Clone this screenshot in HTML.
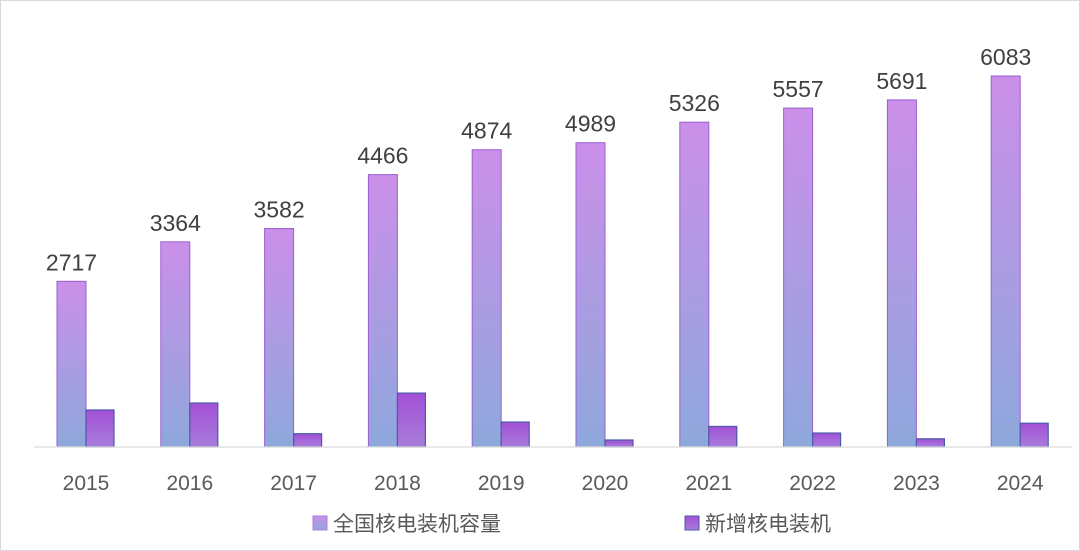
<!DOCTYPE html>
<html><head><meta charset="utf-8"><style>
html,body{margin:0;padding:0;background:#fff}
svg{display:block;font-family:"Liberation Sans","Noto Sans CJK SC",sans-serif}
</style></head><body>
<svg id="c" width="1080" height="551" viewBox="0 0 1080 551">
<defs>
<linearGradient id="gBig" x1="0" y1="0" x2="0" y2="1"><stop offset="0" stop-color="#cb8fe9"/><stop offset="1" stop-color="#8ea8dc"/></linearGradient>
<linearGradient id="gSmall" x1="0" y1="0" x2="0" y2="1"><stop offset="0" stop-color="#a350d6"/><stop offset="1" stop-color="#a87ddb"/></linearGradient>
</defs>
<rect x="0.5" y="0.5" width="1079" height="550" fill="#fff" stroke="#d9d9d9"/>
<g id="bars"></g>
<line x1="34" y1="447" x2="1072" y2="447" stroke="#d9d9d9" stroke-width="1.3"/>
<g>
<rect x="313" y="516" width="14" height="14" fill="url(#gBig)" stroke="#b07ce0"/>
<text x="333" y="531" font-size="21" fill="#595959">全国核电装机容量</text>
<rect x="685" y="516" width="14" height="14" fill="url(#gSmall)" stroke="#4a5aa8"/>
<text x="705" y="531" font-size="21" fill="#595959">新增核电装机</text>
</g>
</svg>
<script>
const categories=["2015","2016","2017","2018","2019","2020","2021","2022","2023","2024"];
const capacity=[2717,3364,3582,4466,4874,4989,5326,5557,5691,6083];
const added=[607,721,218,884,409,115,337,229,134,390];
const baseY=447, pxPerUnit=371/6083, firstX=86, step=103.8, bw=29;
const x=i=>firstX+i*step;
const y=v=>baseY-v*pxPerUnit;
const g=document.getElementById('bars');
const NS="http://www.w3.org/2000/svg";
categories.forEach((c,i)=>{
  const cx=x(i);
  let r=document.createElementNS(NS,'rect');
  r.setAttribute('x',cx-bw);r.setAttribute('y',y(capacity[i]));r.setAttribute('width',bw);r.setAttribute('height',baseY-y(capacity[i]));
  r.setAttribute('fill','url(#gBig)');r.setAttribute('stroke','#9b5fd0');r.setAttribute('stroke-width','1');
  
  
  g.appendChild(r);
  let s=document.createElementNS(NS,'rect');
  s.setAttribute('x',cx);s.setAttribute('y',y(added[i]));s.setAttribute('width',bw-1);s.setAttribute('height',baseY-y(added[i]));
  s.setAttribute('fill','url(#gSmall)');s.setAttribute('stroke','#4a5aa8');s.setAttribute('stroke-width','1.2');
  
  
  g.appendChild(s);
  let t=document.createElementNS(NS,'text');
  t.setAttribute('x',cx-bw/2);t.setAttribute('y',y(capacity[i])-11);t.setAttribute('text-anchor','middle');
  t.setAttribute('font-size','23');t.setAttribute('fill','#404040');t.textContent=capacity[i];
  
  
  g.appendChild(t);
  let l=document.createElementNS(NS,'text');
  l.setAttribute('x',cx);l.setAttribute('y',490);l.setAttribute('text-anchor','middle');
  l.setAttribute('font-size','21');l.setAttribute('fill','#595959');l.textContent=c;
  
  
  g.appendChild(l);
});
</script>
</body></html>
